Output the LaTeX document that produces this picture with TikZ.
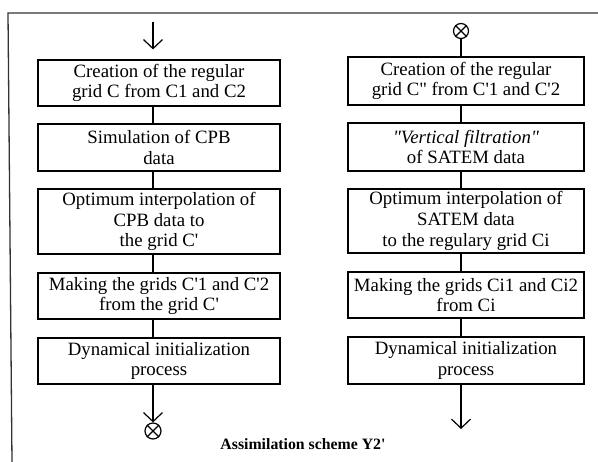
\documentclass[tikz,border=0pt]{standalone}
\usepackage{fontspec}
\setmainfont{Liberation Serif}
\usetikzlibrary{arrows.meta}
\newcommand{\ap}{\textquotesingle}
\newcommand{\dq}{\textquotedbl}
\begin{document}
\begin{tikzpicture}[x=1pt,y=-1pt,
  every node/.style={inner sep=0pt},
  stepbox/.style={draw, line width=1.2pt, align=center,
    font=\fontsize{18.8}{20.8}\selectfont},
  leftbox/.style={stepbox, minimum width=242},
  rightbox/.style={stepbox, minimum width=236},
  link/.style={line width=1.2pt},
  arrowlink/.style={link, -{Straight Barb[length=9pt,width=19pt,line width=1.2pt]}},
  xcirc/.style={draw, circle, line width=1.2pt, minimum size=16},
]
\useasboundingbox (0,0) rectangle (598,462);
\fill[white] (0,0) rectangle (598,462);

% outer frame (top and left edges)
\coordinate (fTL) at (8,13);
\coordinate (fBL) at (12,462);
\coordinate (fTR) at (598,13);
\draw[line width=1.3pt, black!80] (fBL) -- (fTL) -- (fTR);

% connector columns
\coordinate (lx) at (153,0);
\coordinate (rx) at (461,0);

% left chain
\node[leftbox, minimum height=46] (b1) at (159,83)
  {Creation of the regular\\grid C from C1 and C2};
\node[leftbox, minimum height=47] (b2) at (159,147.5)
  {Simulation of CPB\\data};
\node[leftbox, minimum height=65] (b3) at (159,221.5)
  {Optimum interpolation of\\CPB data to\\the grid C\ap};
\node[leftbox, minimum height=46] (b4) at (159,296)
  {Making the grids C\ap1 and C\ap2\\from the grid C\ap};
\node[leftbox, minimum height=46] (b5) at (159,361)
  {Dynamical initialization\\process};

% right chain
\node[rightbox, minimum height=48] (r1) at (466,81)
  {Creation of the regular\\grid C\dq{} from C\ap1 and C\ap2};
\node[rightbox, minimum height=48] (r2) at (466,147)
  {\textit{\dq Vertical filtration\dq}\\of SATEM data};
\node[rightbox, minimum height=64] (r3) at (466,221)
  {Optimum interpolation of\\SATEM data\\to the regulary grid Ci};
\node[rightbox, minimum height=46] (r4) at (466,295)
  {Making the grids Ci1 and Ci2\\from Ci};
\node[rightbox, minimum height=47] (r5) at (466,360.5)
  {Dynamical initialization\\process};

% links between steps
\foreach \a/\b in {b1/b2,b2/b3,b3/b4,b4/b5}
  \draw[link] (\a.south -| lx) -- (\b.north -| lx);
\foreach \a/\b in {r1/r2,r2/r3,r3/r4,r4/r5}
  \draw[link] (\a.south -| rx) -- (\b.north -| rx);

% entry of the left chain
\coordinate (inL) at (153,22);
\draw[arrowlink, shorten >=10pt] (inL) -- (b1.north -| lx);

% exit of the left chain into a junction
\node[xcirc] (xbot) at (153,431) {};
\draw[link] (xbot.north west) -- (xbot.south east);
\draw[link] (xbot.north east) -- (xbot.south west);
\draw[arrowlink] (b5.south -| lx) -- (xbot.north);

% junction feeding the right chain
\node[xcirc, minimum size=15] (xtop) at (461,31) {};
\draw[link] (xtop.north west) -- (xtop.south east);
\draw[link] (xtop.north east) -- (xtop.south west);
\draw[link] (xtop.south) -- (r1.north -| rx);

% exit of the right chain
\coordinate (outR) at (461,429);
\draw[arrowlink] (r5.south -| rx) -- (outR);

% caption
\node[font=\fontsize{15.8}{18}\selectfont\bfseries] (cap) at (303,444)
  {Assimilation scheme Y2\ap};
\end{tikzpicture}
\end{document}
